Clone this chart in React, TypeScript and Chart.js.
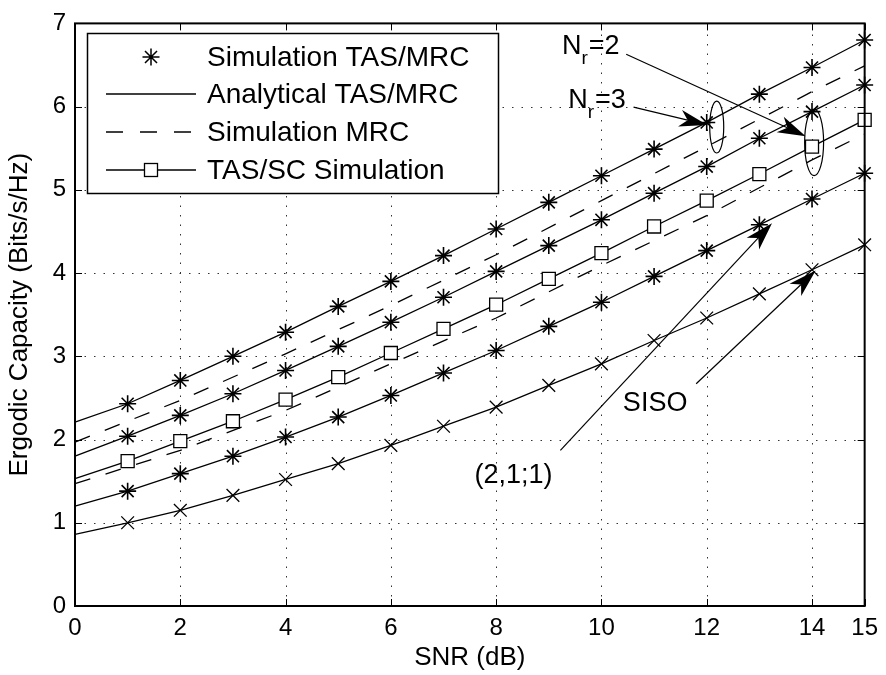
import React, { useEffect, useRef } from 'react';
import { Chart, registerables } from 'chart.js';

Chart.register(...registerables);

// ---------------- data ----------------
const snr = [0, 1, 2, 3, 4, 5, 6, 7, 8, 9, 10, 11, 12, 13, 14, 15];
const tasMrcNr3 = [2.21, 2.43, 2.71, 3.0, 3.29, 3.6, 3.9, 4.21, 4.53, 4.85, 5.17, 5.49, 5.81, 6.15, 6.47, 6.8];
const tasMrcNr2 = [1.8, 2.04, 2.29, 2.55, 2.83, 3.12, 3.41, 3.71, 4.02, 4.33, 4.64, 4.96, 5.28, 5.62, 5.94, 6.26];
const tasSc = [1.53, 1.74, 1.98, 2.22, 2.48, 2.75, 3.04, 3.33, 3.62, 3.93, 4.24, 4.56, 4.87, 5.19, 5.52, 5.84];
const tas211 = [1.2, 1.38, 1.59, 1.8, 2.03, 2.27, 2.53, 2.8, 3.07, 3.36, 3.65, 3.96, 4.27, 4.58, 4.89, 5.2];
const siso = [0.86, 1.0, 1.15, 1.33, 1.52, 1.71, 1.93, 2.16, 2.39, 2.65, 2.91, 3.19, 3.46, 3.75, 4.04, 4.34];
const mrcSnr = [0, 2, 4, 6, 8, 10, 12, 14, 15];
const mrcNr3 = [1.97, 2.47, 3.03, 3.61, 4.22, 4.87, 5.52, 6.18, 6.49];
const mrcNr2 = [1.47, 1.87, 2.35, 2.91, 3.46, 4.09, 4.69, 5.36, 5.67];
const xTicks = [0, 2, 4, 6, 8, 10, 12, 14, 15];
const yTicks = [0, 1, 2, 3, 4, 5, 6, 7];
const legendLabels = ['Simulation TAS/MRC', 'Analytical TAS/MRC', 'Simulation MRC', 'TAS/SC Simulation'];

// annotation anchors in data units
const nr2Text = { x: 9.25, y: 6.63, main: 'N', sub: 'r', tail: '=2' };
const nr3Text = { x: 9.37, y: 5.98, main: 'N', sub: 'r', tail: '=3' };
const nr2Arrow = [10.47, 6.63, 13.88, 5.645];
const nr3Arrow = [10.61, 5.995, 12.01, 5.78];
const ellipseA = [12.19, 5.755, 0.133, 0.312];
const ellipseB = [14.04, 5.57, 0.18, 0.4];
const label211 = { text: '(2,1;1)', x: 8.33, y: 1.57 };
const arrow211 = [9.22, 1.87, 13.24, 4.6];
const labelSiso = { text: 'SISO', x: 11.02, y: 2.43 };
const arrowSiso = [11.8, 2.67, 14.07, 4.03];

const FONT = '"Liberation Sans", Arial, Helvetica, sans-serif';

const pts = (xs: number[], ys: number[]) => xs.map((x, i) => ({ x, y: ys[i] }));

function drawArrow(ctx: CanvasRenderingContext2D, x0: number, y0: number, x1: number, y1: number) {
  const dx = x1 - x0, dy = y1 - y0;
  const len = Math.hypot(dx, dy);
  const ux = dx / len, uy = dy / len;
  const nx = -uy, ny = ux;
  const L = 28, W = 8.5;
  const bx = x1 - ux * L, by = y1 - uy * L;
  const mx = x1 - ux * L * 0.72, my = y1 - uy * L * 0.72;
  ctx.beginPath();
  ctx.moveTo(x0, y0);
  ctx.lineTo(mx, my);
  ctx.stroke();
  ctx.beginPath();
  ctx.moveTo(x1, y1);
  ctx.lineTo(bx + nx * W, by + ny * W);
  ctx.lineTo(mx, my);
  ctx.lineTo(bx - nx * W, by - ny * W);
  ctx.closePath();
  ctx.fill();
}

function drawStar(ctx: CanvasRenderingContext2D, cx: number, cy: number, r: number) {
  const d = r * Math.SQRT1_2;
  ctx.beginPath();
  ctx.moveTo(cx - r, cy); ctx.lineTo(cx + r, cy);
  ctx.moveTo(cx, cy - r); ctx.lineTo(cx, cy + r);
  ctx.moveTo(cx - d, cy - d); ctx.lineTo(cx + d, cy + d);
  ctx.moveTo(cx - d, cy + d); ctx.lineTo(cx + d, cy - d);
  ctx.stroke();
}

const gridPlugin = {
  id: 'matlabGrid',
  beforeDatasetsDraw(chart: any) {
    const { ctx, chartArea: a, scales } = chart;
    const xs = scales.x, ys = scales.y;
    ctx.save();
    ctx.strokeStyle = '#333';
    ctx.lineWidth = 1;
    ctx.setLineDash([1.5, 8]);
    xTicks.forEach((v) => {
      if (v <= 0 || v >= 15) return;
      const px = Math.round(xs.getPixelForValue(v)) + 0.5;
      ctx.beginPath(); ctx.moveTo(px, a.bottom); ctx.lineTo(px, a.top); ctx.stroke();
    });
    yTicks.forEach((v) => {
      if (v <= 0 || v >= 7) return;
      const py = Math.round(ys.getPixelForValue(v)) + 0.5;
      ctx.beginPath(); ctx.moveTo(a.left, py); ctx.lineTo(a.right, py); ctx.stroke();
    });
    ctx.restore();
  },
  afterDatasetsDraw(chart: any) {
    const { ctx, chartArea: a, scales } = chart;
    const xs = scales.x, ys = scales.y;
    const X = (v: number) => xs.getPixelForValue(v);
    const Y = (v: number) => ys.getPixelForValue(v);
    ctx.save();
    ctx.setLineDash([]);
    ctx.strokeStyle = '#000';
    ctx.fillStyle = '#000';

    // frame + inward ticks
    ctx.lineWidth = 2;
    ctx.strokeRect(a.left, a.top, a.right - a.left, a.bottom - a.top);
    ctx.lineWidth = 1;
    const tl = 7;
    xTicks.forEach((v) => {
      const px = Math.round(X(v)) + 0.5;
      ctx.beginPath();
      ctx.moveTo(px, a.bottom); ctx.lineTo(px, a.bottom - tl);
      ctx.moveTo(px, a.top); ctx.lineTo(px, a.top + tl);
      ctx.stroke();
    });
    yTicks.forEach((v) => {
      const py = Math.round(Y(v)) + 0.5;
      ctx.beginPath();
      ctx.moveTo(a.left, py); ctx.lineTo(a.left + tl, py);
      ctx.moveTo(a.right, py); ctx.lineTo(a.right - tl, py);
      ctx.stroke();
    });

    // legend
    const lx = 87, ly = 33, lw = 411, lh = 160;
    ctx.fillStyle = '#fff';
    ctx.fillRect(lx, ly, lw, lh);
    ctx.lineWidth = 1.5;
    ctx.strokeStyle = '#000';
    ctx.strokeRect(lx + 0.5, ly + 0.5, lw, lh);
    ctx.fillStyle = '#000';
    const rows = [57, 94, 132, 170];
    const s0 = 106, s1 = 196, sm = 151;
    ctx.lineWidth = 1.5;
    drawStar(ctx, sm, rows[0], 8.5);
    ctx.lineWidth = 1.3;
    ctx.beginPath(); ctx.moveTo(s0, rows[1]); ctx.lineTo(s1, rows[1]); ctx.stroke();
    ctx.setLineDash([17, 17]);
    ctx.beginPath(); ctx.moveTo(s0, rows[2]); ctx.lineTo(s1, rows[2]); ctx.stroke();
    ctx.setLineDash([]);
    ctx.beginPath(); ctx.moveTo(s0, rows[3]); ctx.lineTo(s1, rows[3]); ctx.stroke();
    ctx.fillStyle = '#fff';
    ctx.fillRect(sm - 6.5, rows[3] - 6.5, 13, 13);
    ctx.strokeRect(sm - 6.5, rows[3] - 6.5, 13, 13);
    ctx.fillStyle = '#000';
    ctx.font = `28px ${FONT}`;
    ctx.textBaseline = 'middle';
    ctx.textAlign = 'left';
    legendLabels.forEach((t, i) => ctx.fillText(t, 207, rows[i] + 1));

    // ellipses
    ctx.lineWidth = 1.2;
    [ellipseA, ellipseB].forEach(([cx, cy, rx, ry]) => {
      ctx.beginPath();
      ctx.ellipse(X(cx), Y(cy), X(cx + rx) - X(cx), Y(cy) - Y(cy + ry), 0, 0, Math.PI * 2);
      ctx.stroke();
    });

    // arrows
    [nr2Arrow, nr3Arrow, arrow211, arrowSiso].forEach(([x0, y0, x1, y1]) => {
      drawArrow(ctx, X(x0), Y(y0), X(x1), Y(y1));
    });

    // N_r labels
    [nr2Text, nr3Text].forEach((t) => {
      const px = X(t.x), py = Y(t.y);
      ctx.textBaseline = 'alphabetic';
      ctx.textAlign = 'left';
      ctx.font = `27px ${FONT}`;
      ctx.fillText(t.main, px, py);
      const w1 = ctx.measureText(t.main).width;
      ctx.font = `19px ${FONT}`;
      ctx.fillText(t.sub, px + w1, py + 10);
      const w2 = ctx.measureText(t.sub).width;
      ctx.font = `27px ${FONT}`;
      ctx.fillText(t.tail, px + w1 + w2 + 1, py);
    });

    ctx.font = `27px ${FONT}`;
    ctx.textAlign = 'center';
    ctx.textBaseline = 'middle';
    [label211, labelSiso].forEach((l) => ctx.fillText(l.text, X(l.x), Y(l.y)));
    ctx.restore();
  },
};

export default function App() {
  const ref = useRef<HTMLCanvasElement | null>(null);
  useEffect(() => {
    document.body.style.margin = '0';
    const canvas = ref.current;
    if (!canvas) return;
    const black = '#000';
    const solid = (data: any[]) => ({
      data, borderColor: black, borderWidth: 1.3, pointRadius: 0, tension: 0, fill: false, clip: false,
    });
    const stars = (data: any[]) => ({
      data, showLine: false, pointStyle: 'star', pointRadius: 8.5, pointBorderColor: black,
      pointBorderWidth: 1.6, pointBackgroundColor: black, borderColor: black, clip: false,
    });
    const chart = new Chart(canvas, {
      type: 'line',
      data: {
        datasets: [
          solid(pts(snr, tasMrcNr3)),
          stars(pts(snr.slice(1), tasMrcNr3.slice(1))),
          { ...solid(pts(mrcSnr, mrcNr3)), borderDash: [16, 16] },
          solid(pts(snr, tasMrcNr2)),
          stars(pts(snr.slice(1), tasMrcNr2.slice(1))),
          {
            ...solid(pts(snr, tasSc)),
            pointStyle: 'rect',
            pointRadius: (c: any) => (c.raw && c.raw.x === 0 ? 0 : 9.2),
            pointBackgroundColor: '#fff', pointBorderColor: black, pointBorderWidth: 1.3,
          },
          { ...solid(pts(mrcSnr, mrcNr2)), borderDash: [16, 16] },
          solid(pts(snr, tas211)),
          stars(pts(snr.slice(1), tas211.slice(1))),
          {
            ...solid(pts(snr, siso)),
            pointStyle: 'crossRot',
            pointRadius: (c: any) => (c.raw && c.raw.x === 0 ? 0 : 9),
            pointBorderColor: black, pointBorderWidth: 1.3,
          },
        ] as any,
      },
      options: {
        responsive: false,
        animation: false,
        devicePixelRatio: 1,
        events: [],
        layout: { padding: { top: 22, right: 19, left: 0, bottom: 0 } },
        plugins: { legend: { display: false }, tooltip: { enabled: false } },
        scales: {
          x: {
            type: 'linear', min: 0, max: 15,
            afterBuildTicks: (s: any) => { s.ticks = xTicks.map((v) => ({ value: v })); },
            afterFit: (s: any) => { s.height = 69; },
            grid: { display: false, drawTicks: false, tickLength: 0 },
            border: { display: false },
            ticks: { color: black, font: { family: FONT, size: 24 }, padding: 8, maxRotation: 0, autoSkip: false },
            title: { display: true, text: 'SNR (dB)', color: black, font: { family: FONT, size: 26 }, padding: { top: 0, bottom: 2 } },
          },
          y: {
            type: 'linear', min: 0, max: 7,
            afterBuildTicks: (s: any) => { s.ticks = yTicks.map((v) => ({ value: v })); },
            afterFit: (s: any) => { s.width = 75; },
            grid: { display: false, drawTicks: false, tickLength: 0 },
            border: { display: false },
            ticks: { color: black, font: { family: FONT, size: 24 }, padding: 9 },
            title: { display: true, text: 'Ergodic Capacity (Bits/s/Hz)', color: black, font: { family: FONT, size: 26 }, padding: { top: 4, bottom: 0 } },
          },
        },
      } as any,
      plugins: [gridPlugin],
    });
    return () => chart.destroy();
  }, []);
  return <canvas ref={ref} width={886} height={675} style={{ display: 'block', width: 886, height: 675 }} />;
}
